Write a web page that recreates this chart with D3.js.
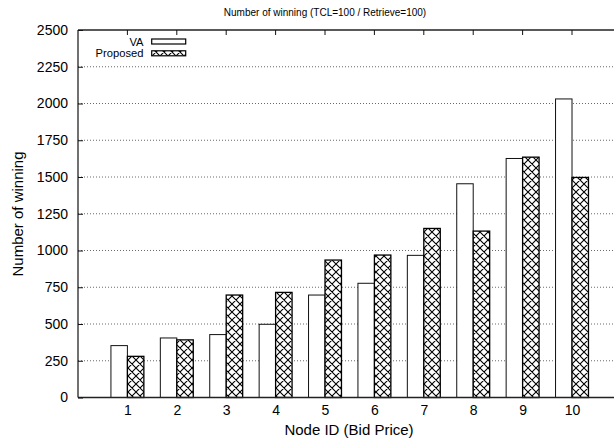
<!DOCTYPE html>
<html><head><meta charset="utf-8">
<script src="https://cdn.jsdelivr.net/npm/d3@7"></script>
<style>body{margin:0;background:#fff}svg{display:block;font-family:"Liberation Sans",Arial,Helvetica,sans-serif}</style>
</head><body>
<svg id="c" width="614" height="443"></svg>
<script>
const categories = ["1","2","3","4","5","6","7","8","9","10"];
const seriesNames = ["VA","Proposed"];
const vaValues = [353, 405, 428, 498, 697, 777, 967, 1454, 1626, 2031];
const proposedValues = [280, 392, 697, 715, 935, 969, 1150, 1132, 1635, 1497];
const yTicks = [0,250,500,750,1000,1250,1500,1750,2000,2250,2500];

const svg = d3.select("#c");
const x = d3.scaleLinear().domain([0, 10.85]).range([78, 614]);
const y = d3.scaleLinear().domain([0, 2500]).range([397.5, 30]);

const defs = svg.append("defs");
const pat = defs.append("pattern").attr("id","hatch").attr("patternUnits","userSpaceOnUse")
  .attr("width",8).attr("height",8);
pat.append("rect").attr("width",8).attr("height",8).attr("fill","#fff");
pat.append("path").attr("d","M0,0L8,8M8,0L0,8M-1,7L1,9M7,-1L9,1M7,9L9,7M-1,1L1,-1")
  .attr("stroke","#000").attr("stroke-width",1.1);

// grid lines
svg.append("g").selectAll("line").data(yTicks.filter(t=>t>0 && t<2500)).join("line")
  .attr("x1",x(0)).attr("x2",614).attr("y1",d=>y(d)).attr("y2",d=>y(d))
  .attr("stroke","#444").attr("stroke-width",0.8).attr("stroke-dasharray","1,2");

// bars
const bw = 1/3;
svg.append("g").selectAll("rect").data(vaValues).join("rect")
  .attr("x",(d,i)=>x(i+1-bw)).attr("width",(d,i)=>x(i+1)-x(i+1-bw))
  .attr("y",d=>y(d)).attr("height",d=>y(0)-y(d))
  .attr("fill","#fff").attr("stroke","#111").attr("stroke-width",1);
svg.append("g").selectAll("rect").data(proposedValues).join("rect")
  .attr("x",(d,i)=>x(i+1)).attr("width",(d,i)=>x(i+1+bw)-x(i+1))
  .attr("y",d=>y(d)).attr("height",d=>y(0)-y(d))
  .attr("fill","url(#hatch)").attr("stroke","#000").attr("stroke-width",1.3);

// axes lines
svg.append("line").attr("x1",x(0)).attr("x2",614).attr("y1",y(2500)).attr("y2",y(2500)).attr("stroke","#222").attr("stroke-width",1.3);
svg.append("line").attr("x1",x(0)).attr("x2",614).attr("y1",y(0)).attr("y2",y(0)).attr("stroke","#222").attr("stroke-width",1.5);
svg.append("line").attr("x1",x(0)).attr("x2",x(0)).attr("y1",y(0)).attr("y2",y(2500)).attr("stroke","#111").attr("stroke-width",1.2);

// y axis
const yAxis = d3.axisLeft(y).tickValues(yTicks).tickSize(-5).tickPadding(10).tickFormat(d3.format("d"));
const gy = svg.append("g").attr("transform",`translate(${x(0)},0)`).call(yAxis);
gy.select(".domain").remove();
gy.selectAll("line").attr("stroke","#111");
gy.selectAll("text").attr("font-size",14).attr("fill","#000").attr("font-family","Liberation Sans, Arial, sans-serif");

// x axis bottom
const xAxis = d3.axisBottom(x).tickValues(categories.map((c,i)=>i+1)).tickSize(0).tickPadding(7.5)
  .tickFormat((d,i)=>categories[i]);
const gx = svg.append("g").attr("transform",`translate(0,${y(0)})`).call(xAxis);
gx.select(".domain").remove();
gx.selectAll("text").attr("font-size",14).attr("fill","#000").attr("font-family","Liberation Sans, Arial, sans-serif");

// top ticks
svg.append("g").selectAll("line").data(d3.range(1,11)).join("line")
  .attr("x1",d=>x(d)).attr("x2",d=>x(d)).attr("y1",y(2500)).attr("y2",y(2500)+5)
  .attr("stroke","#111");

// titles
svg.append("text").attr("x",325).attr("y",16).attr("text-anchor","middle").attr("font-size",10).text("Number of winning (TCL=100 / Retrieve=100)");
svg.append("text").attr("x",349).attr("y",435).attr("text-anchor","middle").attr("font-size",15).text("Node ID (Bid Price)");
svg.append("text").attr("transform","translate(23,214) rotate(-90)").attr("text-anchor","middle").attr("font-size",15).text("Number of winning");

// legend
const leg = svg.append("g");
const fills = ["#fff","url(#hatch)"];
seriesNames.forEach((n,i)=>{
  const cy = 41.5 + i*11.8;
  leg.append("text").attr("x",143.5).attr("y",cy+4).attr("text-anchor","end").attr("font-size",11.2).text(n);
  leg.append("rect").attr("x",151.7).attr("y",cy-2.5).attr("width",34).attr("height",5)
    .attr("fill",fills[i]).attr("stroke","#000").attr("stroke-width",1.2);
});
</script>
</body></html>
